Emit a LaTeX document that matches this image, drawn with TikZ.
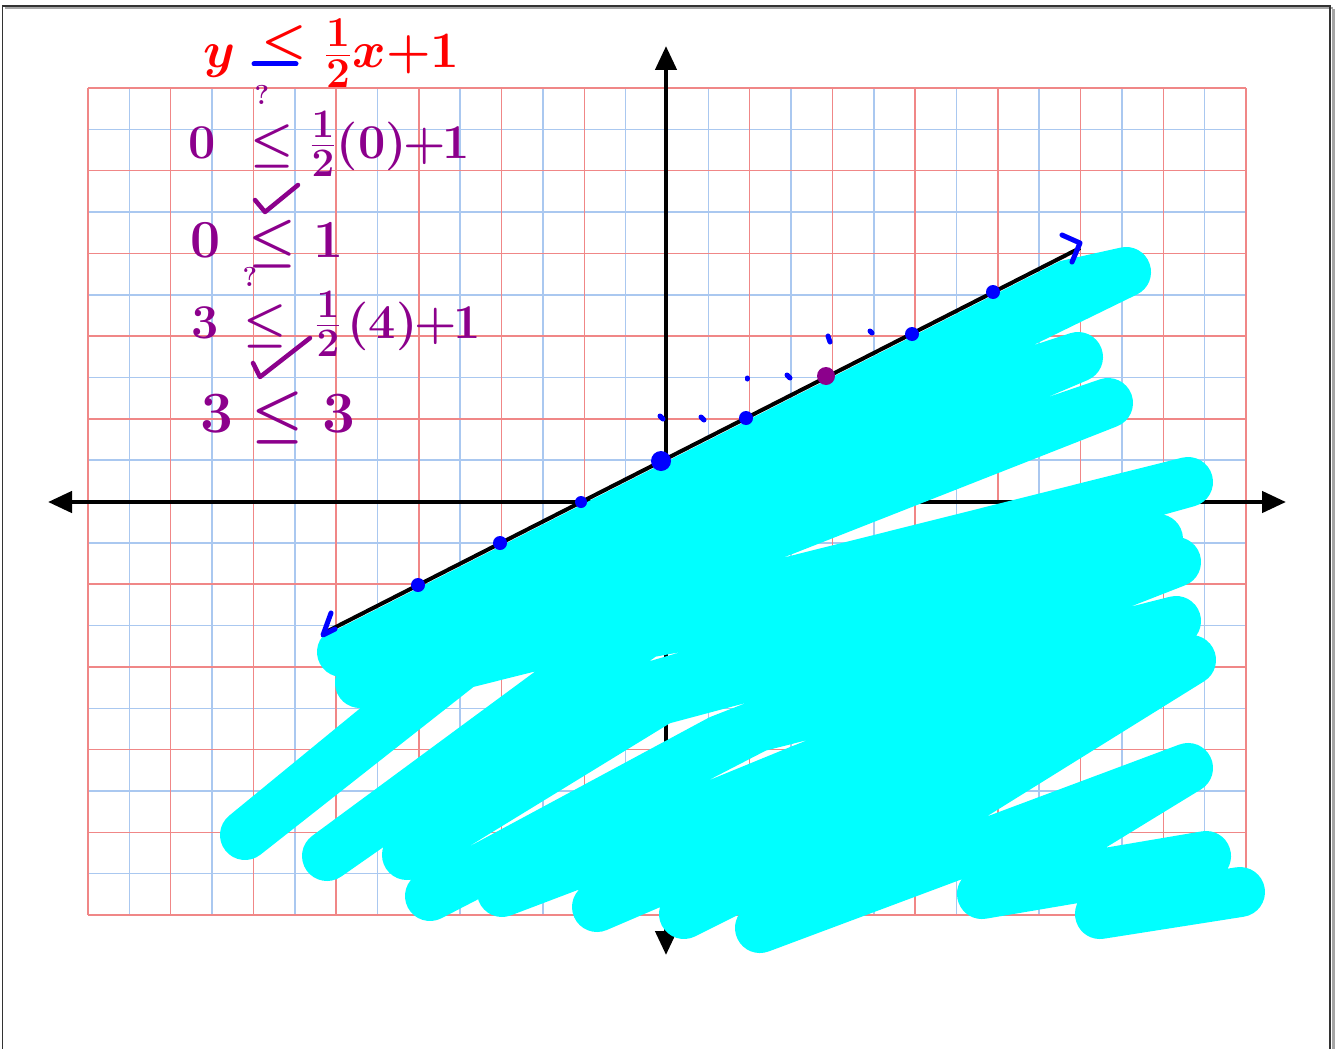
\documentclass[tikz,border=0pt]{standalone}
\usepackage{fontspec}
\usepackage{graphicx}
\usetikzlibrary{arrows.meta}
\definecolor{gridred}{RGB}{240,135,135}
\definecolor{gridblue}{RGB}{170,200,240}
\definecolor{inkpurple}{RGB}{140,0,140}
\definecolor{inkcyan}{RGB}{0,255,255}
\definecolor{inkblue}{RGB}{0,0,255}
\definecolor{inkred}{RGB}{255,0,0}
\begin{document}
\begin{tikzpicture}[x=1pt,y=-1pt,
  gridr/.style={draw=gridred,line width=1.5pt},
  gridb/.style={draw=gridblue,line width=1.5pt},
  axisline/.style={line width=4.5pt,{Triangle[length=24pt,width=21pt]}-{Triangle[length=24pt,width=21pt]}},
  graphline/.style={draw=black,line width=4pt},
  scribble/.style={draw=inkcyan,line width=50pt,line cap=round,line join=round},
  bluepen/.style={draw=inkblue,line width=5pt,line cap=round,line join=round},
  purplepen/.style={draw=inkpurple,line width=4.5pt,line cap=round,line join=round},
  bdot/.style={circle,fill=inkblue,inner sep=0pt,minimum size=14pt},
  pdot/.style={circle,fill=inkpurple,inner sep=0pt,minimum size=18pt},
  handtext/.style={anchor=base west,inner sep=0pt}]
\useasboundingbox (0,0) rectangle (1336,1049);
\fill[white] (0,0) rectangle (1336,1049);
% page frame
\draw[gray!70,line width=3pt] (1333,9) -- (1333,1049);
\draw[gray!70,line width=2pt] (5,8) -- (1333,8);
\draw[black!80,line width=1.5pt] (2.5,1049) -- (2.5,6) -- (1330,6) -- (1330,1049);
% grid
\foreach \i in {1,3,...,27} \draw[gridb] ({88+\i*41.357},88) -- ({88+\i*41.357},915);
\foreach \j in {1,3,...,19} \draw[gridb] (88,{88+\j*41.35}) -- (1246,{88+\j*41.35});
\foreach \i in {0,2,...,28} \draw[gridr] ({88+\i*41.357},88) -- ({88+\i*41.357},915);
\foreach \j in {0,2,...,20} \draw[gridr] (88,{88+\j*41.35}) -- (1246,{88+\j*41.35});
% axes
\coordinate (xl) at (48,502);
\coordinate (xr) at (1286,502);
\coordinate (yt) at (666,46);
\coordinate (yb) at (666,955);
\draw[axisline] (xl) -- (xr);
\draw[axisline] (yt) -- (yb);
% shading scribble below the line
\begin{scope}
\clip (0,801) -- (1336,120.6) -- (1336,1049) -- (0,1049) -- cycle;
\draw[scribble] (342,652) -- (1000,300) -- (1126,272)
  -- (700,480) -- (1078,357)
  -- (600,560) -- (360,683)
  -- (620,570) -- (1108,403)
  -- (480,650) -- (245,835)
  -- (450,667) -- (1188,482)
  -- (620,640) -- (327,856)
  -- (646,633) -- (1158,539)
  -- (640,690) -- (407,855)
  -- (660,700) -- (1176,562)
  -- (720,740) -- (430,896)
  -- (757,727) -- (1176,621)
  -- (800,770) -- (502,892)
  -- (1166,640) -- (597,907)
  -- (1080,700) -- (684,914)
  -- (1191,660) -- (760,928)
  -- (1188,768) -- (982,894)
  -- (1206,856) -- (1100,914)
  -- (1240,892);
\end{scope}
% boundary line
\coordinate (la) at (324,633);
\coordinate (lb) at (1080,248);
\draw[graphline] (la) -- (lb);
\draw[bluepen] (1062,235) -- (1080,243) -- (1072,262);
\draw[bluepen] (331,613) -- (323,635) -- (335,629);
% points on the line
\node[bdot] (d1) at (418,585) {};
\node[bdot] (d2) at (500,543) {};
\node[bdot,minimum size=12pt] (d3) at (581,502) {};
\node[bdot,minimum size=20pt] (d4) at (661,461) {};
\node[bdot] (d5) at (746,418) {};
\node[pdot] (d6) at (826,376) {};
\node[bdot] (d7) at (912,334) {};
\node[bdot] (d8) at (993,292) {};
% small blue dashes
\draw[bluepen] (660,416) -- (663,419);
\draw[bluepen] (701,417) -- (704,420);
\draw[bluepen] (747,378) -- (747,379);
\draw[bluepen] (787,375) -- (790,378);
\draw[bluepen] (828,336) -- (830,342);
\draw[bluepen] (870,331) -- (872,333);
% inequality
\node[handtext,text=inkred] (eq) at (203,68) {\scalebox{2.05}{\Huge\boldmath$y\hspace{5pt}\mathrel{\raisebox{6pt}{$<$}}\frac12\hspace{0pt}x\mkern-4mu+\mkern-4mu1$}};
\draw[bluepen] (254,64) -- (296,64);
\node[text=inkpurple,inner sep=0pt] (q1) at (262,95) {\scalebox{1.1}{\Huge\bfseries ?}};
\node[handtext,text=inkpurple] (t1) at (188,158) {\scalebox{1.95}{\Huge\boldmath$0\hspace{10pt}\leq\frac12(0)\mkern-5mu+\mkern-5mu1$}};
\draw[purplepen] (255,200) -- (265,212) -- (298,185);
\node[handtext,text=inkpurple] (t2) at (190,257) {\scalebox{2.15}{\Huge\boldmath$0\hspace{5pt}\leq 1$}};
\node[text=inkpurple,inner sep=0pt] (q2) at (250,277) {\scalebox{1.1}{\Huge\bfseries ?}};
\node[handtext,text=inkpurple] (t3) at (191,338) {\scalebox{1.95}{\Huge\boldmath$3\hspace{5pt}\leq\hspace{6pt}\frac12\hspace{3pt}(4)\mkern-5mu+\mkern-5mu1$}};
\draw[purplepen] (253,363) -- (260,377) -- (310,338);
\node[handtext,text=inkpurple] (t4) at (200,432) {\scalebox{2.35}{\Huge\boldmath$3\leq 3$}};
\end{tikzpicture}
\end{document}
